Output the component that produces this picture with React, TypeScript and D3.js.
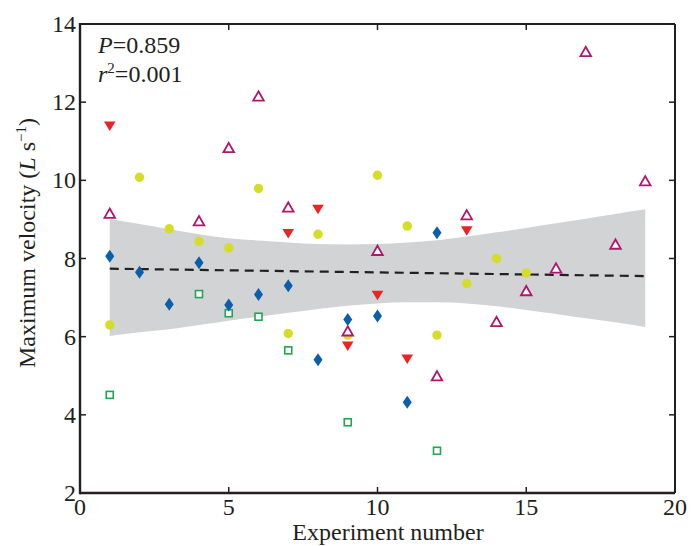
import React from "react";
import * as d3 from "d3";

// Data
const redX = [1, 7, 8, 9, 10, 11, 13];
const redY = [11.39, 8.64, 9.26, 5.76, 7.06, 5.43, 8.71];

const magX = [1, 4, 5, 6, 7, 9, 10, 12, 13, 14, 15, 16, 17, 18, 19];
const magY = [9.15, 8.96, 10.83, 12.15, 9.31, 6.14, 8.2, 4.99, 9.11, 6.38, 7.17, 7.75, 13.29, 8.36, 9.98];

const yelX = [1, 2, 3, 4, 5, 6, 7, 8, 9, 10, 11, 12, 13, 14, 15];
const yelY = [6.3, 10.08, 8.76, 8.44, 8.27, 9.79, 6.08, 8.62, 6.04, 10.13, 8.83, 6.04, 7.36, 8.0, 7.63];

const bluX = [1, 2, 3, 4, 5, 6, 7, 8, 9, 10, 11, 12];
const bluY = [8.06, 7.65, 6.83, 7.89, 6.81, 7.08, 7.3, 5.41, 6.44, 6.53, 4.32, 8.66];

const grnX = [1, 4, 5, 6, 7, 9, 12];
const grnY = [4.51, 7.09, 6.6, 6.51, 5.65, 3.81, 3.08];

const fitX = [1, 19];
const fitY = [7.74, 7.55];

const bandX = [1, 2, 3, 4, 5, 6, 7, 8, 9, 10, 11, 12, 13, 14, 15, 16, 17, 18, 19];
const bandUpper = [9.01, 8.88, 8.75, 8.62, 8.52, 8.46, 8.41, 8.37, 8.36, 8.37, 8.41, 8.47, 8.56, 8.67, 8.78, 8.9, 9.02, 9.14, 9.26];
const bandLower = [6.02, 6.11, 6.19, 6.3, 6.41, 6.51, 6.61, 6.71, 6.79, 6.85, 6.88, 6.88, 6.85, 6.78, 6.68, 6.58, 6.47, 6.37, 6.25];

const xTicks = [0, 5, 10, 15, 20];
const yTicks = [2, 4, 6, 8, 10, 12, 14];

const W = 699;
const H = 546;
const L = 80, R = 675, T = 24, B = 493;
const FONT = "'Liberation Serif', 'Times New Roman', serif";

export default function App() {
  const x = d3.scaleLinear().domain([0, 20]).range([L, R]);
  const y = d3.scaleLinear().domain([2, 14]).range([B, T]);

  const bandData = bandX.map((v, i) => ({ x: v, lo: bandLower[i], hi: bandUpper[i] }));
  const area = d3
    .area<{ x: number; lo: number; hi: number }>()
    .x((d) => x(d.x))
    .y0((d) => y(d.lo))
    .y1((d) => y(d.hi))
    .curve(d3.curveMonotoneX);

  const line = d3
    .line<number>()
    .x((_, i) => x(fitX[i]))
    .y((d) => y(d));

  const tick = 6;
  const axisColor = "#231f20";

  return (
    <svg width={W} height={H} style={{ position: "absolute", left: 0, top: 0, background: "#fff" }}>
      <rect x={0} y={0} width={W} height={H} fill="#fff" />
      <path d={area(bandData) || ""} fill="#d1d3d4" />
      <path d={line(fitY) || ""} fill="none" stroke="#231f20" strokeWidth={2.2} strokeDasharray="9,6" />

      {grnX.map((v, i) => (
        <rect key={"g" + i} x={x(v) - 3.5} y={y(grnY[i]) - 3.5} width={7} height={7} fill="#fff" stroke="#1ea650" strokeWidth={1.6} />
      ))}
      {yelX.map((v, i) => (
        <circle key={"c" + i} cx={x(v)} cy={y(yelY[i])} r={4.7} fill="#d5dd29" />
      ))}
      {bluX.map((v, i) => {
        const cx = x(v), cy = y(bluY[i]);
        return (
          <path key={"b" + i} d={`M${cx},${cy - 6.5}L${cx + 4.5},${cy}L${cx},${cy + 6.5}L${cx - 4.5},${cy}Z`} fill="#0b5eac" />
        );
      })}
      {redX.map((v, i) => {
        const cx = x(v), cy = y(redY[i]);
        return (
          <path key={"r" + i} d={`M${cx - 5.8},${cy - 4.5}L${cx + 5.8},${cy - 4.5}L${cx},${cy + 5}Z`} fill="#ec2227" />
        );
      })}
      {magX.map((v, i) => {
        const cx = x(v), cy = y(magY[i]);
        return (
          <path key={"m" + i} d={`M${cx},${cy - 5}L${cx + 5.3},${cy + 4.3}L${cx - 5.3},${cy + 4.3}Z`} fill="#fff" stroke="#b1166e" strokeWidth={1.8} />
        );
      })}

      {/* frame */}
      <line x1={L} y1={T} x2={R} y2={T} stroke={axisColor} strokeWidth={2} />
      <line x1={R} y1={T} x2={R} y2={B} stroke={axisColor} strokeWidth={2} />
      <line x1={L} y1={B} x2={R} y2={B} stroke={axisColor} strokeWidth={2.4} />
      <line x1={L} y1={T - 1} x2={L} y2={B + 1.2} stroke={axisColor} strokeWidth={2.4} />

      {xTicks.map((t) => (
        <g key={"xt" + t}>
          <line x1={x(t)} x2={x(t)} y1={B} y2={B - tick} stroke={axisColor} strokeWidth={1.5} />
          <line x1={x(t)} x2={x(t)} y1={T} y2={T + tick} stroke={axisColor} strokeWidth={1.5} />
          <text x={x(t)} y={515} textAnchor="middle" fontFamily={FONT} fontSize={24} fill="#231f20">
            {t}
          </text>
        </g>
      ))}
      {yTicks.map((t) => (
        <g key={"yt" + t}>
          <line x1={L} x2={L + tick} y1={y(t)} y2={y(t)} stroke={axisColor} strokeWidth={1.5} />
          <line x1={R} x2={R - tick} y1={y(t)} y2={y(t)} stroke={axisColor} strokeWidth={1.5} />
          <text x={76} y={y(t) + 8} textAnchor="end" fontFamily={FONT} fontSize={24} fill="#231f20">
            {t}
          </text>
        </g>
      ))}

      <text x={388} y={540} textAnchor="middle" fontFamily={FONT} fontSize={24} fill="#231f20">
        Experiment number
      </text>
      <text transform="translate(35,243) rotate(-90)" textAnchor="middle" fontFamily={FONT} fontSize={24} fill="#231f20">
        Maximum velocity (<tspan fontStyle="italic">L</tspan> s<tspan fontSize={15} dy={-9}>−1</tspan>
        <tspan dy={9}>)</tspan>
      </text>

      <text x={98} y={53} fontFamily={FONT} fontSize={24} fill="#231f20">
        <tspan fontStyle="italic">P</tspan>=0.859
      </text>
      <text x={98} y={82} fontFamily={FONT} fontSize={24} fill="#231f20">
        <tspan fontStyle="italic">r</tspan>
        <tspan fontSize={15} dy={-9}>2</tspan>
        <tspan dy={9}>=0.001</tspan>
      </text>
    </svg>
  );
}
